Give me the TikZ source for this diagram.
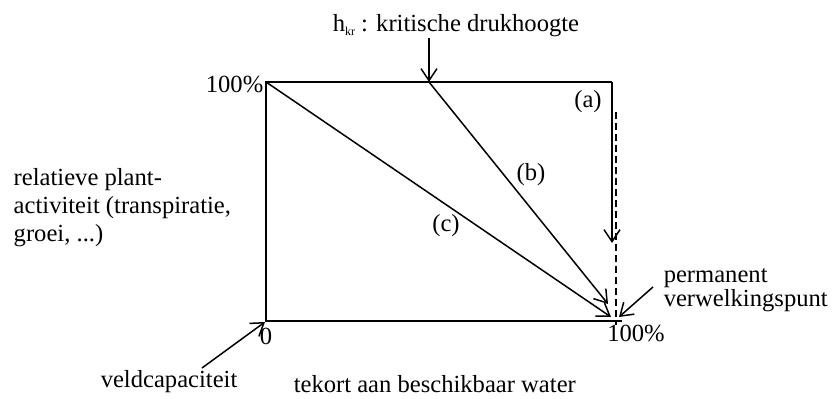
\documentclass[tikz,border=0pt]{standalone}
\usepackage{fontspec}
\setmainfont{Liberation Serif}
\usetikzlibrary{arrows.meta}
\begin{document}
\begin{tikzpicture}[x=0.5pt, y=-0.5pt, line width=0.75pt,
  font=\fontsize{12.3pt}{14pt}\selectfont,
  lbl/.style={inner sep=0pt},
  pijl/.style={-{Straight Barb[length=6pt,width=8pt,line width=0.75pt]}}]
\useasboundingbox (0,0) rectangle (836,399);

% hoekpunten en pijlpunten
\coordinate (lt) at (266,82);
\coordinate (lb) at (266,321);
\coordinate (rt) at (612,82);
\coordinate (rb) at (622,321);
\coordinate (bs) at (429,82);
\coordinate (hkrtail) at (429,38);
\coordinate (atip) at (612,243);
\coordinate (btip) at (608,304);
\coordinate (ctip) at (611,317);
\coordinate (d1) at (616,112);
\coordinate (d2) at (616,325);
\coordinate (pvtail) at (653,287);
\coordinate (pvtip) at (619,317);
\coordinate (vctail) at (202,368);
\coordinate (vctip) at (265,322);

% teksten
\node[lbl, anchor=base west] (hkr) at (332,32) {h\raisebox{-0.3ex}{\fontsize{6pt}{6pt}\selectfont kr} : kritische drukhoogte};
\node[lbl, anchor=base east] (top) at (264,93) {100\%};
\node[lbl, anchor=base] (la) at (588,108) {(a)};
\node[lbl, anchor=base] (lbb) at (531,181) {(b)};
\node[lbl, anchor=base] (lc) at (446,232) {(c)};
\node[lbl, anchor=base] (nul) at (266,345) {0};
\node[lbl, anchor=base] (vol) at (636,342) {100\%};
\node[lbl, anchor=base west, align=left] (pv) at (663,307) {permanent\\[-2pt]verwelkingspunt};
\node[lbl, anchor=base west, align=left] (act) at (13,242) {relatieve plant-\\activiteit (transpiratie,\\groei, ...)};
\node[lbl, anchor=base west] (vc) at (100,388) {veldcapaciteit};
\node[lbl, anchor=base west] (tw) at (293,393) {tekort aan beschikbaar water};

% assen en curven
\draw (rt) -- (lt) -- (lb) -- (rb);
\draw[pijl] (hkrtail) -- (bs);
\draw[pijl] (rt) -- (atip);
\draw[pijl] (bs) -- (btip);
\draw[pijl] (lt) -- (ctip);
\draw[dash pattern=on 3.5pt off 2pt] (d1) -- (d2);
\draw[pijl] (pvtail) -- (pvtip);
\draw[pijl] (vctail) -- (vctip);
\end{tikzpicture}
\end{document}
